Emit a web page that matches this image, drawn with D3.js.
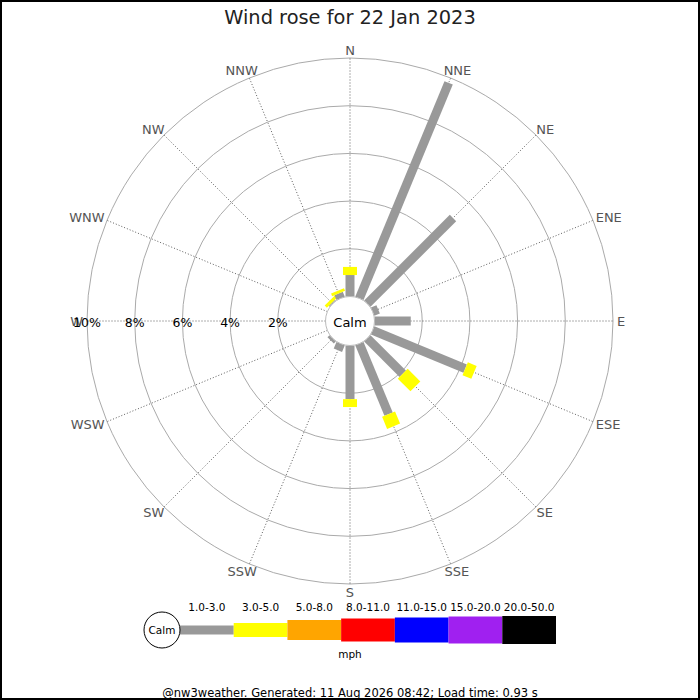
<!DOCTYPE html>
<html>
<head>
<meta charset="utf-8">
<script src="https://cdn.jsdelivr.net/npm/d3@7"></script>
<style>
  body { margin: 0; background: #fff; }
  svg { display: block; font-family: "DejaVu Sans", sans-serif; }
</style>
</head>
<body>
<div id="rose"></div>
<script>
// wind directions, clockwise from north
var directions = ["N", "NNE", "NE", "ENE", "E", "ESE", "SE", "SSE",
                  "S", "SSW", "SW", "WSW", "W", "WNW", "NW", "NNW"];

// speed bands (mph)
var speedBands = ["1.0-3.0", "3.0-5.0", "5.0-8.0", "8.0-11.0", "11.0-15.0", "15.0-20.0", "20.0-50.0"];
var bandColours = ["#999999", "#ffff00", "#ffa500", "#ff0000", "#0000ff", "#a020f0", "#000000"];

// % of time per direction in each band
var band1to3 = [0.9, 9.78, 5.08, 0.25, 1.52, 4.2, 2.1, 3.2, 2.25, 0.3, 0.12, 0, 0, 0, 0.05, 0.22];
var band3to5 = [0.34, 0, 0, 0, 0, 0.4, 0.75, 0.55, 0.33, 0, 0, 0, 0, 0, 0.13, 0.12];

var ringTicks = [2, 4, 6, 8, 10];

var svgWidth = 700;
var svgHeight = 700;
var cx = 350, cy = 321;
var calmRadius = 24.5;
var outerRadius = 263;
var barWidths = [9, 14, 20, 23, 25, 27, 28];

var svg = d3.select("#rose")
    .append("svg")
    .attr("width", svgWidth)
    .attr("height", svgHeight);

// frame
svg.append("rect")
    .attr("x", 1).attr("y", 1)
    .attr("width", svgWidth - 2).attr("height", svgHeight - 2)
    .attr("fill", "#fff")
    .attr("stroke", "#000")
    .attr("stroke-width", 2);

svg.append("text")
    .attr("x", cx).attr("y", 24)
    .attr("text-anchor", "middle")
    .attr("font-size", "19.4px")
    .attr("fill", "#222")
    .text("Wind rose for 22 Jan 2023");

var rScale = d3.scaleLinear()
    .domain([0, 10])
    .range([calmRadius, outerRadius]);

var angleScale = d3.scalePoint()
    .domain(directions)
    .range([0, 360 - 22.5]);

function px(dir, r) {
    var a = angleScale(dir) * Math.PI / 180;
    return cx + r * Math.sin(a);
}
function py(dir, r) {
    var a = angleScale(dir) * Math.PI / 180;
    return cy - r * Math.cos(a);
}

var chart = svg.append("g");

// rings
chart.selectAll(".ring")
    .data(ringTicks)
    .enter()
    .append("circle")
    .attr("cx", cx).attr("cy", cy)
    .attr("r", d => rScale(d))
    .attr("fill", "none")
    .attr("stroke", "#aaa")
    .attr("stroke-width", 1);

// spokes
chart.selectAll(".spoke")
    .data(directions)
    .enter()
    .append("line")
    .attr("x1", d => px(d, calmRadius))
    .attr("y1", d => py(d, calmRadius))
    .attr("x2", d => px(d, outerRadius))
    .attr("y2", d => py(d, outerRadius))
    .attr("stroke", "#333")
    .attr("stroke-width", 0.8)
    .attr("stroke-dasharray", "1,2");

// direction labels, pushed out sideways by their own width
chart.selectAll(".dirLabel")
    .data(directions)
    .enter()
    .append("text")
    .attr("x", d => px(d, outerRadius + 8))
    .attr("y", d => py(d, outerRadius + 8))
    .attr("text-anchor", "middle")
    .attr("dominant-baseline", "central")
    .attr("font-size", "13px")
    .attr("fill", "#555")
    .text(d => d)
    .each(function (d) {
        var w = this.getComputedTextLength();
        var a = angleScale(d) * Math.PI / 180;
        var shift = Math.max(0, w / 2 - 4) * Math.sin(a);
        d3.select(this).attr("x", px(d, outerRadius + 8) + shift);
    });

// stacked bars
var bands = [band1to3, band3to5];
var segments = [];
directions.forEach(function (dir, i) {
    var total = 0;
    bands.forEach(function (band, b) {
        var v = band[i];
        if (v > 0) {
            segments.push({ dir: dir, start: total, end: total + v, band: b });
        }
        total += v;
    });
});

chart.selectAll(".bar")
    .data(segments)
    .enter()
    .append("line")
    .attr("x1", d => px(d.dir, rScale(d.start)))
    .attr("y1", d => py(d.dir, rScale(d.start)))
    .attr("x2", d => px(d.dir, rScale(d.end)))
    .attr("y2", d => py(d.dir, rScale(d.end)))
    .attr("stroke", d => bandColours[d.band])
    .attr("stroke-width", d => barWidths[d.band])
    .attr("stroke-linecap", "butt");

// percentage labels along the west spoke
chart.selectAll(".pctLabel")
    .data(ringTicks)
    .enter()
    .append("text")
    .attr("x", d => cx - rScale(d))
    .attr("y", cy + 1)
    .attr("text-anchor", "middle")
    .attr("dominant-baseline", "central")
    .attr("font-size", "12.5px")
    .attr("fill", "#000")
    .text(d => d + "%");

// calm circle
chart.append("circle")
    .attr("cx", cx).attr("cy", cy)
    .attr("r", calmRadius)
    .attr("fill", "#fff")
    .attr("stroke", "#bbb");

chart.append("text")
    .attr("x", cx).attr("y", cy + 1)
    .attr("text-anchor", "middle")
    .attr("dominant-baseline", "central")
    .attr("font-size", "13px")
    .text("Calm");

// legend
var legendY = 630;
var legendScale = d3.scaleBand()
    .domain(speedBands)
    .range([180, 556]);

var legend = svg.append("g");

legend.selectAll(".swatch")
    .data(speedBands)
    .enter()
    .append("rect")
    .attr("x", d => legendScale(d))
    .attr("y", (d, i) => legendY - barWidths[i] / 2)
    .attr("width", legendScale.bandwidth())
    .attr("height", (d, i) => barWidths[i])
    .attr("fill", (d, i) => bandColours[i]);

legend.selectAll(".swatchLabel")
    .data(speedBands)
    .enter()
    .append("text")
    .attr("x", d => legendScale(d) + legendScale.bandwidth() / 2)
    .attr("y", 611)
    .attr("text-anchor", "middle")
    .attr("font-size", "10.5px")
    .text(d => d);

legend.append("circle")
    .attr("cx", 162).attr("cy", legendY)
    .attr("r", 18)
    .attr("fill", "#fff")
    .attr("stroke", "#000");

legend.append("text")
    .attr("x", 162).attr("y", legendY)
    .attr("text-anchor", "middle")
    .attr("dominant-baseline", "central")
    .attr("font-size", "10.5px")
    .text("Calm");

legend.append("text")
    .attr("x", cx).attr("y", 658)
    .attr("text-anchor", "middle")
    .attr("font-size", "10.5px")
    .text("mph");

svg.append("text")
    .attr("x", cx).attr("y", 697)
    .attr("text-anchor", "middle")
    .attr("font-size", "11.5px")
    .text("@nw3weather. Generated: 11 Aug 2026 08:42; Load time: 0.93 s");
</script>
</body>
</html>
